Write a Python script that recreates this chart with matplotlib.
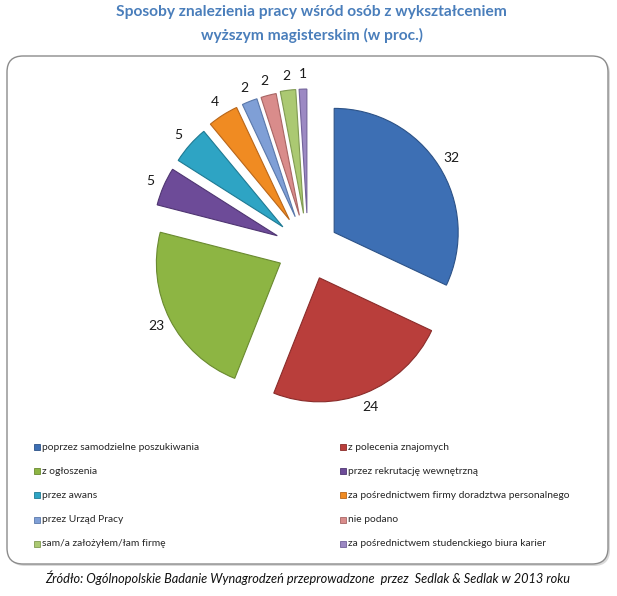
import matplotlib.pyplot as plt
from matplotlib.patches import FancyBboxPatch, Rectangle

# Sposoby znalezienia pracy (w proc.)
categories = [
    'poprzez samodzielne poszukiwania',
    'z polecenia znajomych',
    'z ogłoszenia',
    'przez rekrutację wewnętrzną',
    'przez awans',
    'za pośrednictwem firmy doradztwa personalnego',
    'przez Urząd Pracy',
    'nie podano',
    'sam/a założyłem/łam firmę',
    'za pośrednictwem studenckiego biura karier',
]
values = [32, 24, 23, 5, 5, 4, 2, 2, 2, 1]
colors = ['#3d6fb4', '#b93e3b', '#8db543', '#6d4b98', '#2ea4c4',
          '#f08b22', '#7f9fd6', '#d98c8b', '#abc972', '#9c89c3']
edges = ['#2c5287', '#8a2c2a', '#6a8a30', '#4f3572', '#1f7a93',
         '#b8661a', '#5a78aa', '#a86564', '#809a52', '#72629a']

title = 'Sposoby znalezienia pracy wśród osób z wykształceniem\nwyższym magisterskim (w proc.)'
source = 'Źródło: Ogólnopolskie Badanie Wynagrodzeń przeprowadzone  przez  Sedlak & Sedlak w 2013 roku'

W, H = 617, 596
fig = plt.figure(figsize=(W / 100, H / 100), dpi=100)
fig.patch.set_facecolor('white')

# rounded frame round the chart (inches)
shadow = FancyBboxPatch((0.09, 0.30), 6.01, 5.08, boxstyle='round,pad=0,rounding_size=0.16',
                        transform=fig.dpi_scale_trans, facecolor='#d9d9d9', edgecolor='none', zorder=0)
frame = FancyBboxPatch((0.07, 0.32), 6.01, 5.08, boxstyle='round,pad=0,rounding_size=0.16',
                       transform=fig.dpi_scale_trans, facecolor='white', edgecolor='#8c8c8c',
                       linewidth=1.0, zorder=1)
fig.patches.extend([shadow, frame])

fig.text(0.505, 1 - 24 / H, title, ha='center', va='center', fontsize=11.2,
         fontweight='bold', color='#4a7ebb', family='Lato', linespacing=1.7)

# pie: centre at (308, 249) px, radius 124 px
cx, cy, r = 308, 249, 124
half = 200
ax = fig.add_axes([(cx - half) / W, (H - cy - half) / H, 2 * half / W, 2 * half / H])
ax.set_zorder(2)
lim = half / r
wedges, texts = ax.pie(values, labels=[str(v) for v in values], colors=colors,
                       startangle=90, counterclock=False,
                       explode=[0.25, 0.25, 0.25, 0.27, 0.27, 0.28, 0.28, 0.28, 0.29, 0.29],
                       labeldistance=1.12,
                       wedgeprops=dict(linewidth=0.8),
                       textprops=dict(fontsize=10, family='Lato', color='#1a1a1a'))
for w, ec in zip(wedges, edges):
    w.set_edgecolor(ec)
for t in texts:
    t.set_ha('center')
    t.set_va('center')
ax.set_xlim(-lim, lim)
ax.set_ylim(-lim, lim)
ax.set_aspect('equal')
ax.axis('off')

# legend in two columns, row by row
col_x = [37, 343]
for i, (lab, col, ec) in enumerate(zip(categories, colors, edges)):
    row, c = divmod(i, 2)
    y = 447 + 24.2 * row
    x = col_x[c]
    fig.patches.append(Rectangle(((x - 3) / W, 1 - (y + 3) / H), 6 / W, 6 / H,
                                 transform=fig.transFigure, facecolor=col, edgecolor=ec,
                                 linewidth=0.6, zorder=3))
    fig.text((x + 5) / W, 1 - y / H, lab, ha='left', va='center', fontsize=7.4,
             family='Lato', color='#262626', zorder=3)

fig.text(45 / W, 1 - 578 / H, source, ha='left', va='center', fontsize=9.2,
         style='italic', family='Lato', color='#111111')

fig.savefig('out.png', dpi=100)
